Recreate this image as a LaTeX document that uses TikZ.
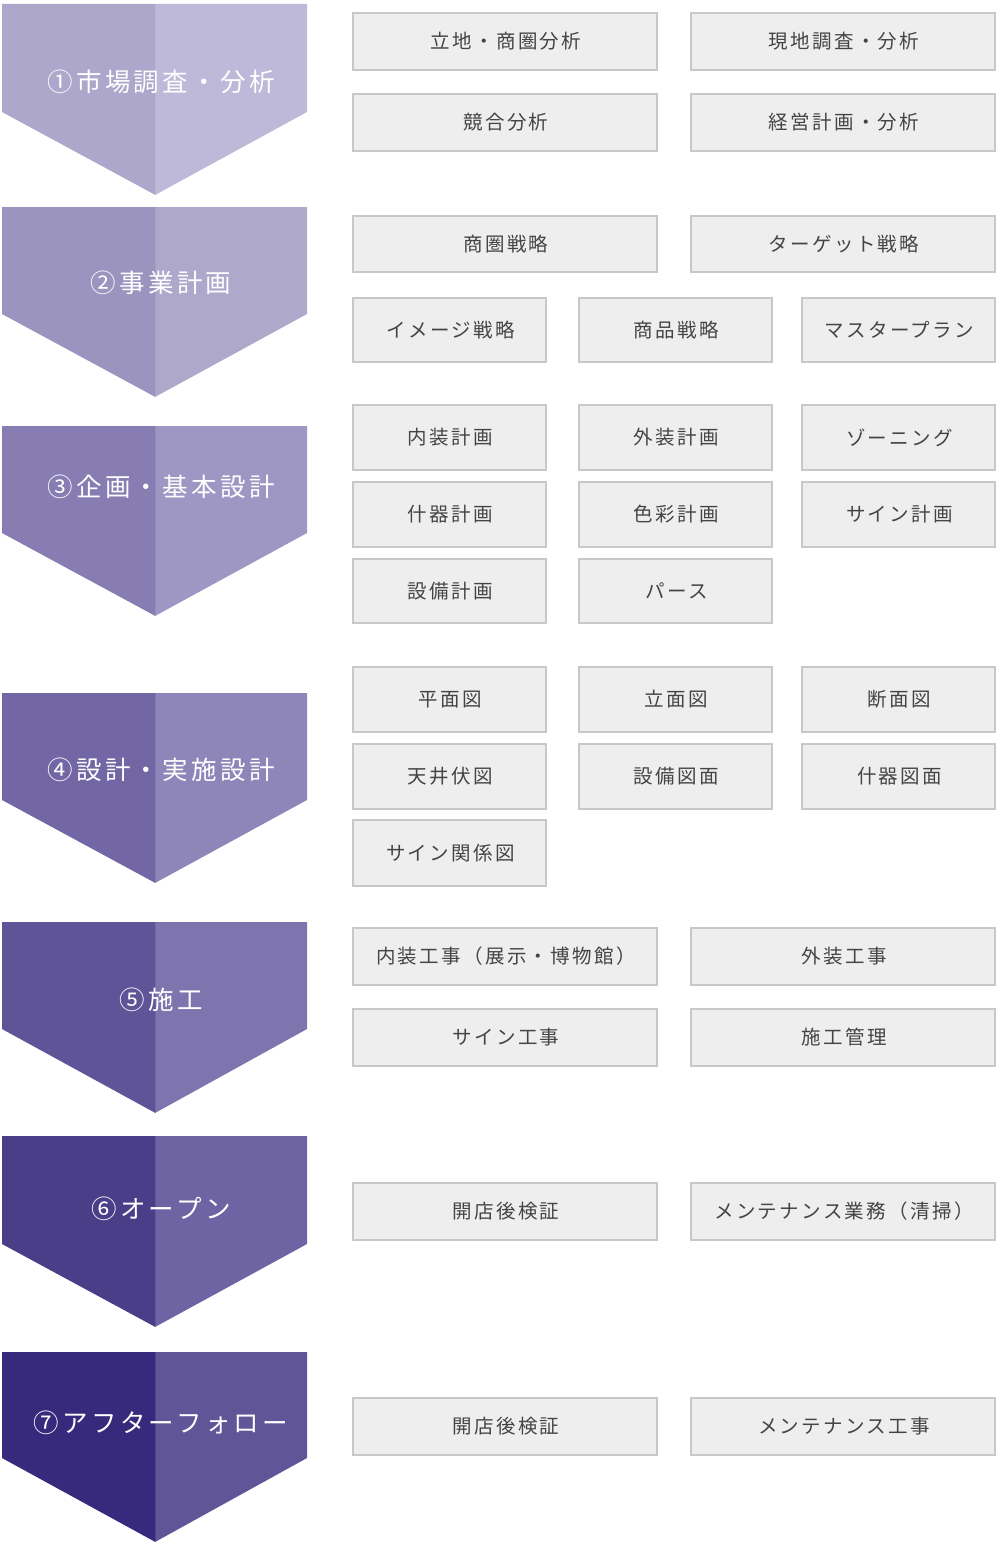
\documentclass[tikz,border=0pt]{standalone}
\usepackage{fontspec}
\newfontfamily\jpbox[LetterSpace=12]{Noto Sans CJK JP}
\newfontfamily\jphead[LetterSpace=13]{Noto Sans CJK JP}
\definecolor{boxfill}{HTML}{EEEEEE}
\definecolor{boxborder}{HTML}{C8C8C8}
\definecolor{boxtext}{HTML}{444444}
\definecolor{cAl}{HTML}{ADA8CB}\definecolor{cAr}{HTML}{BEB9D8}
\definecolor{cBl}{HTML}{9B94BF}\definecolor{cBr}{HTML}{AEA8CB}
\definecolor{cCl}{HTML}{877DB3}\definecolor{cCr}{HTML}{9F97C3}
\definecolor{cDl}{HTML}{7267A4}\definecolor{cDr}{HTML}{8E86B8}
\definecolor{cEl}{HTML}{5F5497}\definecolor{cEr}{HTML}{7F75AE}
\definecolor{cFl}{HTML}{4A3E88}\definecolor{cFr}{HTML}{6F64A3}
\definecolor{cGl}{HTML}{37297B}\definecolor{cGr}{HTML}{5F5597}
\tikzset{
  pbox/.style={draw=boxborder, fill=boxfill, line width=2pt, inner sep=0pt,
    text=boxtext, font=\jpbox\fontsize{19.5}{23}\selectfont},
  headtext/.style={text=white, inner sep=0pt, font=\jphead\fontsize{25.5}{30}\selectfont}
}
\newcommand\pb[6]{\node[pbox, minimum width={(#4-#2-2)*1pt}, minimum height={(#5-#3-2)*1pt}] (#1) at ({(#2+#4)/2},{(#3+#5)/2}) {\hspace*{2pt}#6};}
\newcommand\chev[8]{%
  \fill[#6] (155,#2) -- (307,#2) -- (307,#3) -- (155,#4) -- cycle;
  \fill[#5] (2,#2) -- (155.4,#2) -- (155.4,#4) -- (2,#3) -- cycle;
  \node[headtext] (#1) at (161,#7) {#8};}
\begin{document}
\begin{tikzpicture}[x=1pt,y=-1pt]
\useasboundingbox (0,0) rectangle (1000,1555);
% chevrons
\chev{h1}{4}{112}{195}{cAl}{cAr}{82}{①市場調査・分析}
\chev{h2}{207}{314}{397}{cBl}{cBr}{283}{②事業計画}
\chev{h3}{426}{533}{616}{cCl}{cCr}{487}{③企画・基本設計}
\chev{h4}{693}{800}{883}{cDl}{cDr}{770}{④設計・実施設計}
\chev{h5}{922}{1029}{1113}{cEl}{cEr}{1000}{⑤施工}
\chev{h6}{1136}{1244}{1327}{cFl}{cFr}{1209}{⑥オープン}
\chev{h7}{1352}{1458}{1542}{cGl}{cGr}{1423}{⑦アフターフォロー}
% section 1
\pb{a1}{352}{12}{658}{71}{立地・商圏分析}
\pb{a2}{690}{12}{996}{71}{現地調査・分析}
\pb{a3}{352}{93}{658}{152}{競合分析}
\pb{a4}{690}{93}{996}{152}{経営計画・分析}
% section 2
\pb{b1}{352}{215}{658}{273}{商圏戦略}
\pb{b2}{690}{215}{996}{273}{ターゲット戦略}
\pb{b3}{352}{297}{547}{363}{イメージ戦略}
\pb{b4}{578}{297}{773}{363}{商品戦略}
\pb{b5}{801}{297}{996}{363}{マスタープラン}
% section 3
\pb{c1}{352}{404}{547}{471}{内装計画}
\pb{c2}{578}{404}{773}{471}{外装計画}
\pb{c3}{801}{404}{996}{471}{ゾーニング}
\pb{c4}{352}{481}{547}{548}{什器計画}
\pb{c5}{578}{481}{773}{548}{色彩計画}
\pb{c6}{801}{481}{996}{548}{サイン計画}
\pb{c7}{352}{558}{547}{624}{設備計画}
\pb{c8}{578}{558}{773}{624}{パース}
% section 4
\pb{d1}{352}{666}{547}{733}{平面図}
\pb{d2}{578}{666}{773}{733}{立面図}
\pb{d3}{801}{666}{996}{733}{断面図}
\pb{d4}{352}{743}{547}{810}{天井伏図}
\pb{d5}{578}{743}{773}{810}{設備図面}
\pb{d6}{801}{743}{996}{810}{什器図面}
\pb{d7}{352}{819}{547}{887}{サイン関係図}
% section 5
\pb{e1}{352}{927}{658}{986}{内装工事（展示・博物館）}
\pb{e2}{690}{927}{996}{986}{外装工事}
\pb{e3}{352}{1008}{658}{1067}{サイン工事}
\pb{e4}{690}{1008}{996}{1067}{施工管理}
% section 6
\pb{f1}{352}{1182}{658}{1241}{開店後検証}
\pb{f2}{690}{1182}{996}{1241}{メンテナンス業務（清掃）}
% section 7
\pb{g1}{352}{1397}{658}{1456}{開店後検証}
\pb{g2}{690}{1397}{996}{1456}{メンテナンス工事}
\end{tikzpicture}
\end{document}
